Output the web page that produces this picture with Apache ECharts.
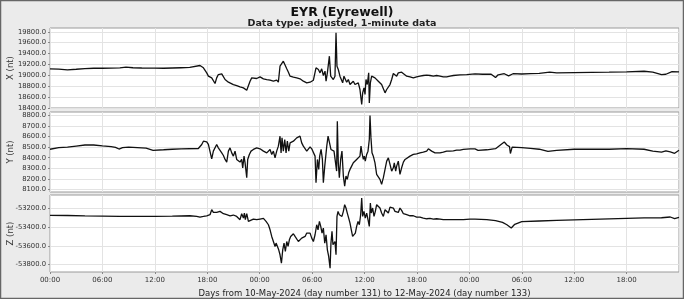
<!DOCTYPE html>
<html>
<head>
<meta charset="utf-8">
<script src="https://cdn.jsdelivr.net/npm/echarts@6/dist/echarts.min.js"></script>
<style>
html,body{margin:0;padding:0;background:#ebebeb;}
#c{width:684px;height:299px;}
</style>
</head>
<body>
<div id="c"></div>
<script>
// Time axis: hours since 10-May-2024 00:00 UT
const xTicks = [0, 6, 12, 18, 24, 30, 36, 42, 48, 54, 60, 66];
const xTickLabels = ["00:00","06:00","12:00","18:00","00:00","06:00","12:00","18:00","00:00","06:00","12:00","18:00"];

const yTicksX = [18400, 18600, 18800, 19000, 19200, 19400, 19600, 19800];
const yTicksY = [8100, 8200, 8300, 8400, 8500, 8600, 8700, 8800];
const yTicksZ = [-53800, -53600, -53400, -53200];

// X component (nT): [hour, value]
const seriesX = [
[0,19120],[1,19115],[2,19100],[3,19112],[4,19125],[5,19130],[6,19130],[7,19132],[8,19138],[8.7,19152],[9.5,19140],[10.5,19135],[12,19132],[13,19130],[14,19135],[15,19140],[16,19145],
[17.17,19181],[17.56,19138],[17.94,19046],[18.13,18985],[18.32,18997],[18.51,18954],[18.70,18923],[18.89,18850],[19.08,18954],[19.27,19015],[19.46,19046],[19.66,19028],[19.85,18997],[20.04,18923],[20.23,18911],[20.42,18874],[20.61,18862],[20.99,18831],[21.37,18813],[21.75,18789],[22.14,18770],[22.33,18801],[22.52,18727],[22.71,18709],[22.90,18893],[23.09,18954],[23.28,18954],[23.66,18942],[24.04,18972],[24.23,18972],[24.43,18936],[24.62,18954],[24.81,18923],[25.19,18911],[25.38,18936],[25.57,18893],[25.76,18862],[25.95,18911],[26.14,18874],[26.33,19169],[26.52,19199],[26.71,19261],[26.91,19230],[27.10,19120],[27.29,19058],[27.48,18985],[27.86,18966],[28.24,18954],[28.43,18985],[28.62,18936],[29.00,18893],[29.39,18862],[29.77,18874],[30.15,18911],[30.45,19138],[30.72,19107],[30.91,19046],[31.10,19120],[31.29,18997],[31.48,19077],[31.60,18893],[31.75,19046],[31.98,19352],[32.13,18985],
[32.24,18985],[32.43,18923],[32.62,18985],[32.74,19782],[32.85,19169],[33.00,19107],[33.19,18985],[33.39,19015],[33.50,18862],[33.65,18985],[33.77,18954],[33.96,18874],[34.15,18923],[34.34,18831],[34.53,18801],[34.72,18893],[34.91,18831],[35.10,18813],[35.29,18862],[35.48,18740],[35.68,18464],[35.79,18678],[35.94,18770],[36.06,18648],[36.17,18923],[36.32,18831],[36.48,19046],[36.55,18494],[36.67,18862],[36.82,18985],[37.01,19015],[37.20,18954],[37.39,18985],[37.58,18893],[37.77,18862],[37.96,18831],[38.16,18801],[38.35,18678],[38.54,18740],[38.73,18770],[38.92,18831],[39.11,18923],[39.30,19034],[39.49,19015],[39.68,18985],[39.87,19046],[40.06,19015],[40.25,19058],[40.45,19034],[40.83,18985],[41.21,18972],[41.59,18954],[41.97,18972],[42.35,18985],[42.73,18997],[43.12,19003],[43.50,18997],[43.88,18985],[44.26,18997],[44.64,18985],[45.02,18972],[45.22,18936],[45.41,18972],[45.79,18985],[46.17,18997],[46.93,19009],[47.70,19015],[48.65,19028],
[49.5,19020],[50.5,19020],[51.0,18960],[51.3,19010],[52.0,19030],[52.5,18990],[53.0,19030],[54.0,19025],[55.0,19030],[56.0,19035],[57.2,19060],[58.0,19045],[60,19050],[62,19055],[64,19058],[66,19065],[68,19075],[69,19060],[70,19015],[70.5,19020],[71.2,19070],[72,19065]
];

// Y component (nT)
const seriesY = [
[0,8480],[1,8495],[2,8500],[3,8510],[4,8520],[5,8520],[6,8512],[7,8505],[7.5,8498],[7.9,8482],[8.3,8495],[9,8500],[10,8495],[11,8490],[11.8,8470],[12,8468],[13,8475],[14,8480],[15,8483],[16.98,8487],
[17.17,8503],[17.37,8525],[17.56,8556],[17.75,8540],[17.94,8550],[18.13,8525],[18.32,8509],[18.51,8390],[18.70,8462],[18.89,8478],[19.08,8525],[19.27,8493],[19.46,8478],[19.66,8446],[19.85,8421],[20.04,8384],[20.23,8359],[20.42,8462],[20.61,8493],[20.80,8446],[20.99,8415],[21.18,8462],[21.37,8384],[21.56,8399],[21.75,8359],[21.94,8384],[22.06,8305],[22.21,8415],[22.33,8352],[22.52,8212],[22.63,8384],[22.82,8431],[23.01,8462],[23.28,8478],[23.66,8493],[23.85,8509],[24.04,8484],[24.23,8493],[24.43,8462],[24.62,8471],[24.81,8446],[25.19,8478],[25.38,8431],[25.57,8462],[25.76,8399],[25.95,8462],[26.14,8509],[26.33,8603],[26.45,8446],[26.56,8587],[26.71,8462],[26.87,8572],[27.02,8446],[27.17,8556],[27.33,8462],[27.48,8540],[27.67,8525],[27.86,8556],[28.05,8540],[28.24,8587],[28.43,8572],[28.62,8603],[28.81,8540],[29.00,8509],[29.20,8493],[29.39,8462],[29.58,8478],[29.77,8503],[29.96,8484],[30.15,8493],[30.34,8415],[30.45,8165],[30.61,8384],[30.76,8290],[30.87,8415],[31.03,8478],[31.18,8384],[31.29,8165],[31.45,8321],[31.68,8509],[31.83,8603],[31.98,8618],[32.05,8603],
[32.16,8478],[32.36,8493],[32.51,8462],[32.66,8446],[32.81,8274],[32.89,8744],[33.00,8352],[33.12,8212],[33.27,8384],[33.42,8462],[33.58,8227],[33.73,8133],[33.88,8227],[34.03,8196],[34.19,8258],[34.34,8290],[34.53,8321],[34.72,8352],[34.91,8368],[35.10,8384],[35.29,8368],[35.48,8415],[35.60,8509],[35.71,8446],[35.87,8384],[35.98,8415],[36.09,8368],[36.25,8431],[36.40,8462],[36.55,8572],[36.63,8797],[36.74,8587],[36.86,8446],[37.01,8415],[37.20,8352],[37.39,8243],[37.58,8227],[37.77,8196],[37.96,8149],[38.16,8212],[38.35,8290],[38.54,8368],[38.73,8399],[38.92,8337],[39.11,8274],[39.30,8305],[39.41,8352],[39.57,8274],[39.68,8321],[39.87,8368],[40.06,8243],[40.25,8305],[40.45,8359],[40.64,8384],[40.83,8399],[41.21,8415],[41.59,8431],[41.97,8437],[42.35,8446],[42.73,8453],[43.12,8462],[43.31,8484],[43.50,8471],[43.69,8462],[43.88,8471],[44.07,8446],[44.26,8462],[44.64,8446],[45.02,8453],[45.41,8462],[45.79,8462],[46.17,8465],[46.55,8471],[46.93,8471],[47.31,8478],[48.08,8484],[48.65,8484],
[49,8470],[50,8475],[51,8485],[51.7,8530],[52,8548],[52.3,8520],[52.6,8505],[52.7,8440],[52.9,8500],[54,8495],[55,8488],[56,8480],[57,8460],[58,8470],[60,8480],[62,8482],[64,8480],[66,8485],[68,8480],[69,8462],[70,8452],[70.5,8465],[71,8455],[71.5,8442],[72,8470]
];

// Z component (nT)
const seriesZ = [
[0,-53275],[2,-53276],[4,-53280],[6,-53283],[8,-53286],[10,-53286],[12,-53285],[14,-53283],[16,-53279],[16.79,-53286],
[17.17,-53293],[17.56,-53286],[17.94,-53279],[18.32,-53268],[18.51,-53214],[18.70,-53243],[19.08,-53243],[19.46,-53232],[19.66,-53243],[19.85,-53257],[20.23,-53268],[20.61,-53279],[20.80,-53293],[20.99,-53271],[21.37,-53286],[21.56,-53268],[21.75,-53321],[21.94,-53257],[22.14,-53304],[22.25,-53250],[22.36,-53321],[22.52,-53257],[22.71,-53339],[22.90,-53329],[23.28,-53314],[23.66,-53321],[24.04,-53314],[24.43,-53307],[24.73,-53339],[25.00,-53375],[25.19,-53429],[25.38,-53500],[25.57,-53554],[25.76,-53607],[25.88,-53571],[26.03,-53589],[26.18,-53643],[26.33,-53696],[26.49,-53786],[26.64,-53643],[26.79,-53571],[26.94,-53661],[27.10,-53554],[27.25,-53607],[27.40,-53536],[27.55,-53500],[27.71,-53482],[27.86,-53471],[28.05,-53500],[28.24,-53482],[28.43,-53554],[28.62,-53536],[28.81,-53518],[29.00,-53536],[29.20,-53500],[29.39,-53464],[29.58,-53457],[29.77,-53464],[29.96,-53518],[30.15,-53554],[30.34,-53482],[30.53,-53375],[30.68,-53429],[30.84,-53339],[30.99,-53393],[31.14,-53464],[31.29,-53411],[31.45,-53571],[31.60,-53482],[31.75,-53643],[31.90,-53714],[32.06,-53839],[32.16,-53571],[32.28,-53446],[32.39,-53589],[32.51,-53571],[32.62,-53554],
[32.74,-53696],[32.85,-53286],[32.97,-53232],[33.12,-53268],[33.27,-53250],[33.42,-53286],[33.58,-53232],[33.73,-53161],[33.88,-53196],[34.03,-53250],[34.19,-53304],[34.34,-53357],[34.49,-53429],[34.64,-53500],[34.80,-53482],[34.95,-53464],[35.10,-53393],[35.26,-53339],[35.41,-53375],[35.56,-53268],[35.68,-53089],[35.79,-53286],[35.94,-53232],[36.09,-53304],[36.25,-53250],[36.44,-53339],[36.55,-53393],[36.67,-53143],[36.78,-53250],[36.93,-53196],[37.09,-53286],[37.24,-53232],[37.39,-53161],[37.58,-53179],[37.77,-53196],[37.96,-53250],[38.16,-53286],[38.35,-53214],[38.54,-53232],[38.73,-53250],[38.92,-53186],[39.11,-53171],[39.30,-53196],[39.49,-53232],[39.68,-53250],[39.87,-53243],[40.06,-53196],[40.25,-53221],[40.45,-53257],[40.83,-53268],[41.21,-53279],[41.59,-53279],[41.78,-53268],[41.97,-53293],[42.35,-53293],[42.73,-53304],[43.12,-53311],[43.50,-53307],[43.88,-53314],[44.26,-53311],[44.64,-53314],[45.02,-53321],[45.79,-53321],[46.55,-53321],[47.31,-53321],[48.08,-53314],[48.65,-53314],
[50,-53320],[51,-53330],[51.8,-53350],[52.3,-53375],[52.8,-53410],[53.2,-53370],[54,-53342],[56,-53335],[58,-53328],[60,-53322],[64,-53312],[68,-53302],[70,-53300],[71,-53292],[71.5,-53310],[72,-53296]
];

const ranges = [[18400, 19870], [8077, 8831], [-53880, -53057]];
const yNames = ["X (nt)", "Y (nt)", "Z (nt)"];
const yTicks = [yTicksX, yTicksY, yTicksZ];
const datas = [seriesX, seriesY, seriesZ];

const chart = echarts.init(document.getElementById('c'), null, {renderer: 'canvas'});
const FONT = 'DejaVu Sans';
const grids = [
  {left: 50, right: 5, top: 28, height: 80},
  {left: 50, right: 5, top: 112, height: 80},
  {left: 50, right: 5, top: 195, height: 77}
].map(g => Object.assign(g, {show: true, containLabel: false, outerBoundsMode: 'none',
  backgroundColor: '#ffffff', borderColor: '#9a9a9a', borderWidth: 1}));

const xAxes = [0,1,2].map(i => ({
  type: 'value', gridIndex: i, min: 0, max: 72, interval: 6,
  axisLine: {show: false},
  axisTick: {show: i === 2, length: 2, lineStyle: {color: '#888'}},
  axisLabel: {
    show: i === 2, fontFamily: FONT, fontSize: 7, color: '#333', margin: 5,
    showMaxLabel: false,
    formatter: v => { const k = xTicks.indexOf(v); return k >= 0 ? xTickLabels[k] : ''; }
  },
  splitLine: {show: true, lineStyle: {color: '#e3e3e3', width: 1}},
  name: i === 2 ? 'Days from 10-May-2024 (day number 131) to 12-May-2024 (day number 133)' : '',
  nameLocation: 'middle', nameGap: 17, nameMoveOverlap: false,
  nameTextStyle: {fontFamily: FONT, fontSize: 8.5, color: '#222'}
}));

const yAxes = [0,1,2].map(i => ({
  type: 'value', gridIndex: i, min: ranges[i][0], max: ranges[i][1],
  axisLine: {show: false},
  axisTick: {show: true, length: 2, customValues: yTicks[i], lineStyle: {color: '#888'}},
  axisLabel: {
    fontFamily: FONT, fontSize: 6.8, color: '#333', margin: 4,
    customValues: yTicks[i],
    formatter: v => v.toFixed(1)
  },
  splitLine: {show: true, lineStyle: {color: '#e3e3e3', width: 1}},
  name: yNames[i], nameLocation: 'middle', nameGap: 35, nameRotate: 90,
  nameMoveOverlap: false,
  nameTextStyle: {fontFamily: FONT, fontSize: 8.5, color: '#333'}
}));

const series = [0,1,2].map(i => ({
  type: 'line', xAxisIndex: i, yAxisIndex: i, data: datas[i],
  showSymbol: false, symbol: 'none', animation: false,
  lineStyle: {color: '#111', width: 1.3}
}));

chart.setOption({
  backgroundColor: '#ebebeb',
  animation: false,
  title: [
    {text: 'EYR (Eyrewell)', left: 'center', top: 1,
     textStyle: {fontFamily: FONT, fontSize: 12.5, fontWeight: 'bold', color: '#111'}},
    {text: 'Data type: adjusted, 1-minute data', left: 'center', top: 14,
     textStyle: {fontFamily: FONT, fontSize: 9.5, fontWeight: 'bold', color: '#222'}}
  ],
  grid: grids,
  xAxis: xAxes,
  yAxis: yAxes,
  series: series,
  graphic: [{type: 'rect', shape: {x: 0.5, y: 0.5, width: 683, height: 298},
    style: {fill: 'none', stroke: '#666', lineWidth: 1.5}, silent: true}]
});
</script>
</body>
</html>
